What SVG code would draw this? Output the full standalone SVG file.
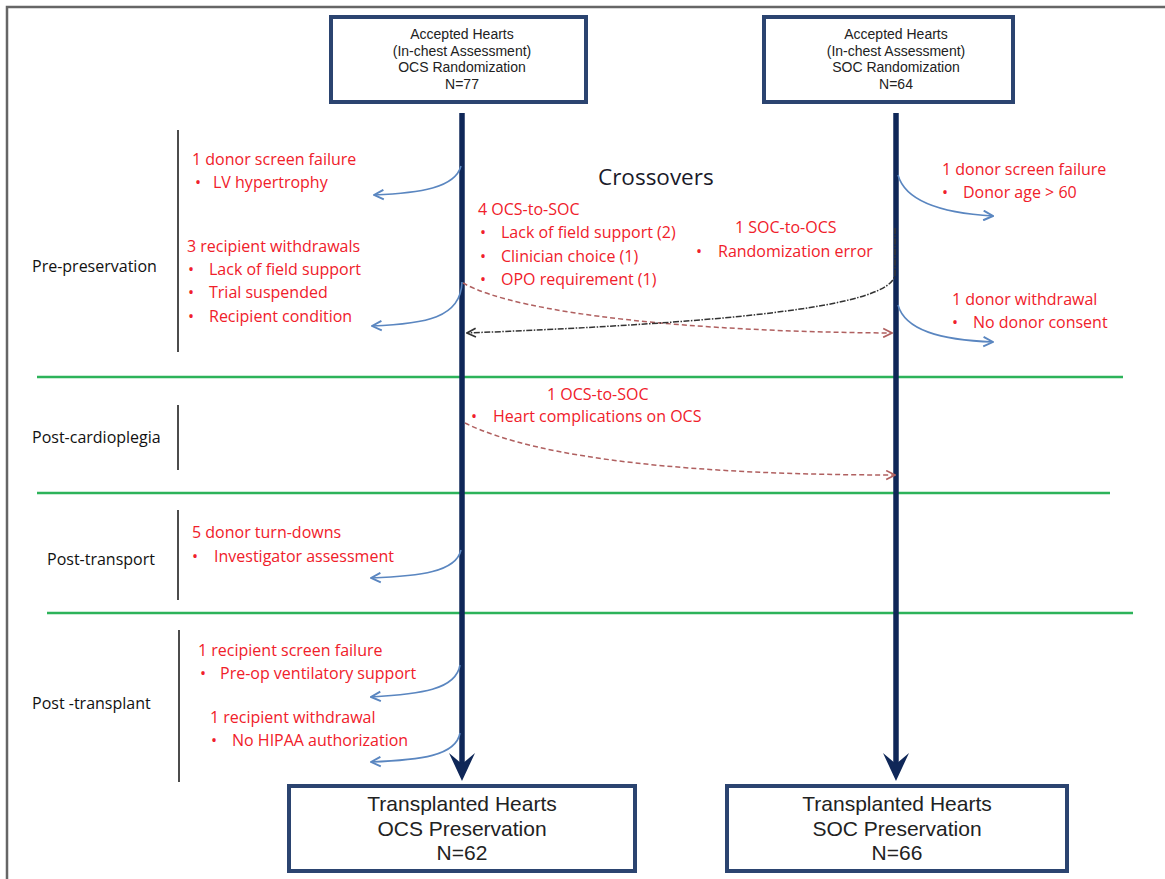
<svg xmlns="http://www.w3.org/2000/svg" width="1165" height="879" viewBox="0 0 1165 879">
<defs>
<style>
.red{font-family:"Open Sans","Liberation Sans",sans-serif;font-size:16px;fill:#f0202a}
.lbl{font-family:"Open Sans","Liberation Sans",sans-serif;font-size:16px;fill:#111}
.top{font-family:"Liberation Sans",Arial,sans-serif;font-size:14px;fill:#222;text-anchor:middle}
.bot{font-family:"Liberation Sans",Arial,sans-serif;font-size:21px;fill:#222;text-anchor:middle}
.box{fill:#fff;stroke:#2b4470;stroke-width:4}
.sec{stroke:#2db35a;stroke-width:2.5}
.brk{stroke:#111;stroke-width:1.5}
.blue{fill:none;stroke:#5a86c0;stroke-width:1.6}
.rdash{fill:none;stroke:#b06060;stroke-width:1.5;stroke-dasharray:5,3}
.kdash{fill:none;stroke:#333;stroke-width:1.5;stroke-dasharray:6,1.5,1.5,1.5}
.main{stroke:#0f2758;stroke-width:5.5}
</style>
<marker id="ab" viewBox="0 0 10 10" refX="9" refY="5" markerWidth="12" markerHeight="12" markerUnits="userSpaceOnUse" orient="auto"><path d="M1,1 L9,5 L1,9" fill="none" stroke="#5a86c0" stroke-width="1.6"/></marker>
<marker id="ar" viewBox="0 0 10 10" refX="9" refY="5" markerWidth="11" markerHeight="11" markerUnits="userSpaceOnUse" orient="auto"><path d="M1,1 L9,5 L1,9" fill="none" stroke="#b06060" stroke-width="1.5"/></marker>
<marker id="ak" viewBox="0 0 10 10" refX="9" refY="5" markerWidth="11" markerHeight="11" markerUnits="userSpaceOnUse" orient="auto"><path d="M1,1 L9,5 L1,9" fill="none" stroke="#333" stroke-width="1.5"/></marker>
</defs>
<rect width="1165" height="879" fill="#fff"/>
<rect x="7" y="7" width="1180" height="900" fill="none" stroke="#666" stroke-width="2.5"/>

<g id="sections">
<line class="sec" x1="37" y1="377" x2="1123" y2="377"/>
<line class="sec" x1="37" y1="493" x2="1110" y2="493"/>
<line class="sec" x1="47" y1="613" x2="1133" y2="613"/>
<line class="brk" x1="178" y1="130" x2="178" y2="352"/>
<line class="brk" x1="178" y1="405" x2="178" y2="470"/>
<line class="brk" x1="178" y1="510" x2="178" y2="600"/>
<line class="brk" x1="179" y1="630" x2="179" y2="782"/>
<text class="lbl" x="32" y="272">Pre-preservation</text>
<text class="lbl" x="32" y="443">Post-cardioplegia</text>
<text class="lbl" x="47" y="565">Post-transport</text>
<text class="lbl" x="32" y="709">Post -transplant</text>
</g>

<g id="connectors">
<line class="main" x1="462" y1="113" x2="462" y2="768"/>
<path d="M449,753 L462,781 L475,753 L462,764 Z" fill="#0f2758"/>
<line class="main" x1="896" y1="113" x2="896" y2="768"/>
<path d="M883,753 L896,781 L909,753 L896,764 Z" fill="#0f2758"/>
<path class="blue" d="M461,166 C455,188 420,193 374,195" marker-end="url(#ab)"/>
<path class="blue" d="M462,282 C461,318 425,324 372,326" marker-end="url(#ab)"/>
<path class="blue" d="M898,175 C905,200 940,213 993,216" marker-end="url(#ab)"/>
<path class="blue" d="M898,305 C905,330 940,340 993,342" marker-end="url(#ab)"/>
<path class="blue" d="M461,550 C456,572 420,576 371,578" marker-end="url(#ab)"/>
<path class="blue" d="M460,665 C456,690 420,694 371,697" marker-end="url(#ab)"/>
<path class="blue" d="M460,733 C456,756 420,760 371,762" marker-end="url(#ab)"/>
<path class="rdash" d="M463,283 C520,315 700,332 892,333" marker-end="url(#ar)"/>
<path class="kdash" d="M895,228 L895,275 C890,305 750,322 467,333" marker-end="url(#ak)"/>
<path class="rdash" d="M465,423 C540,460 700,475 895,475" marker-end="url(#ar)"/>
</g>

<g id="ocs-top">
<rect class="box" x="331" y="17" width="255" height="85"/>
<text class="top" x="462" y="39">Accepted Hearts</text>
<text class="top" x="462" y="55.5">(In-chest Assessment)</text>
<text class="top" x="462" y="72">OCS Randomization</text>
<text class="top" x="462" y="88.5">N=77</text>
</g>
<g id="soc-top">
<rect class="box" x="764" y="17" width="249" height="85"/>
<text class="top" x="896" y="39">Accepted Hearts</text>
<text class="top" x="896" y="55.5">(In-chest Assessment)</text>
<text class="top" x="896" y="72">SOC Randomization</text>
<text class="top" x="896" y="88.5">N=64</text>
</g>

<g id="ocs-bottom">
<rect class="box" x="289" y="786" width="346" height="85"/>
<text class="bot" x="462" y="811">Transplanted Hearts</text>
<text class="bot" x="462" y="835.5">OCS Preservation</text>
<text class="bot" x="462" y="860">N=62</text>
</g>
<g id="soc-bottom">
<rect class="box" x="727" y="786" width="340" height="85"/>
<text class="bot" x="897" y="811">Transplanted Hearts</text>
<text class="bot" x="897" y="835.5">SOC Preservation</text>
<text class="bot" x="897" y="860">N=66</text>
</g>

<g id="ocs-pre">
<text class="red" x="192" y="165">1 donor screen failure</text>
<text class="red" x="195" y="188">•</text><text class="red" x="213" y="188">LV hypertrophy</text>
<text class="red" x="187" y="252">3 recipient withdrawals</text>
<text class="red" x="188" y="275">•</text><text class="red" x="209" y="275">Lack of field support</text>
<text class="red" x="188" y="298">•</text><text class="red" x="209" y="298">Trial suspended</text>
<text class="red" x="188" y="322">•</text><text class="red" x="209" y="322">Recipient condition</text>
</g>
<g id="soc-pre">
<text class="red" x="942" y="175">1 donor screen failure</text>
<text class="red" x="942" y="198">•</text><text class="red" x="963" y="198">Donor age &gt; 60</text>
<text class="red" x="952" y="305">1 donor withdrawal</text>
<text class="red" x="952" y="328">•</text><text class="red" x="973" y="328">No donor consent</text>
</g>
<g id="crossovers">
<text x="598" y="185" style="font-family:'Open Sans','Liberation Sans',sans-serif;font-size:22.5px;fill:#1a1a2a">Crossovers</text>
<text class="red" x="478" y="215">4 OCS-to-SOC</text>
<text class="red" x="480" y="238">•</text><text class="red" x="501" y="238">Lack of field support (2)</text>
<text class="red" x="480" y="262">•</text><text class="red" x="501" y="262">Clinician choice (1)</text>
<text class="red" x="480" y="285">•</text><text class="red" x="501" y="285">OPO requirement (1)</text>
<text class="red" x="735" y="233">1 SOC-to-OCS</text>
<text class="red" x="696" y="257">•</text><text class="red" x="718" y="257">Randomization error</text>
<text class="red" x="547" y="400">1 OCS-to-SOC</text>
<text class="red" x="471" y="422">•</text><text class="red" x="493" y="422">Heart complications on OCS</text>
</g>
<g id="ocs-transport">
<text class="red" x="192" y="538">5 donor turn-downs</text>
<text class="red" x="192" y="562">•</text><text class="red" x="214" y="562">Investigator assessment</text>
</g>
<g id="ocs-transplant">
<text class="red" x="198" y="656">1 recipient screen failure</text>
<text class="red" x="200" y="679">•</text><text class="red" x="220" y="679">Pre-op ventilatory support</text>
<text class="red" x="210" y="723">1 recipient withdrawal</text>
<text class="red" x="211" y="746">•</text><text class="red" x="232" y="746">No HIPAA authorization</text>
</g>
</svg>
